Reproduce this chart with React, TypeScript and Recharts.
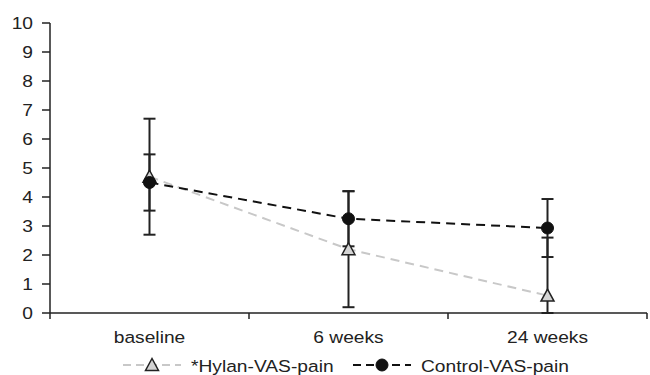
import React from 'react';
import { LineChart, Line, XAxis, YAxis, ErrorBar, Legend } from 'recharts';

const categories = ['baseline', '6 weeks', '24 weeks'];
const hylanMean = [4.7, 2.2, 0.6];
const hylanSd = [2.0, 2.0, 2.0];
const controlMean = [4.5, 3.25, 2.93];
const controlSd = [0.97, 0.95, 1.0];
const yTicks = [0, 1, 2, 3, 4, 5, 6, 7, 8, 9, 10];
const hylanLabel = '*Hylan-VAS-pain';
const controlLabel = 'Control-VAS-pain';

const data = categories.map((name, i) => ({
  name,
  pos: i + 0.5,
  hylan: hylanMean[i],
  hylanErr: hylanSd[i],
  control: controlMean[i],
  controlErr: controlSd[i],
}));

// boundary ticks (0..n) and label ticks at band centres
const xTicks = [
  ...categories.map((_, i) => i),
  categories.length,
  ...categories.map((_, i) => i + 0.5),
].sort((a, b) => a - b);

// the plot area cuts error bars off at 0
const clipped = (mean: string, err: string) => (d: any) => [Math.min(d[err], d[mean]), d[err]];

const FONT = '"Liberation Sans", Arial, sans-serif';
const FS = 17;
const STRETCH = 1.13;

const XTick = ({ x, y, payload }: any) => {
  const v = payload.value;
  if (Number.isInteger(v)) {
    return <line x1={x} y1={y} x2={x} y2={y + 6} stroke="#222" strokeWidth={1.5} />;
  }
  const label = categories[Math.floor(v)];
  return (
    <text
      transform={`translate(${x},${y + 30}) scale(${STRETCH},1)`}
      textAnchor="middle"
      fontSize={FS}
      fontFamily={FONT}
      fill="#222"
    >
      {label}
    </text>
  );
};

const YTick = ({ x, y, payload }: any) => (
  <g>
    <line x1={x - 8} y1={y} x2={x} y2={y} stroke="#222" strokeWidth={1.5} />
    <text
      transform={`translate(${x - 17},${y + 6}) scale(${STRETCH},1)`}
      textAnchor="end"
      fontSize={FS}
      fontFamily={FONT}
      fill="#222"
    >
      {payload.value}
    </text>
  </g>
);

const Triangle = ({ cx, cy }: any) => {
  if (cx == null || cy == null) return null;
  return (
    <polygon
      points={`${cx},${cy - 6.5} ${cx - 6.5},${cy + 5.5} ${cx + 6.5},${cy + 5.5}`}
      fill="#d4d4d4"
      stroke="#222"
      strokeWidth={1.5}
    />
  );
};

const Circle = ({ cx, cy }: any) => {
  if (cx == null || cy == null) return null;
  return <circle cx={cx} cy={cy} r={6} fill="#111" stroke="#111" />;
};

const legendItems = [
  { label: hylanLabel, color: '#c8c8c8', marker: 'triangle', x: 123 },
  { label: controlLabel, color: '#111', marker: 'circle', x: 353 },
];

const renderLegend = () => (
  <svg width={650} height={28} style={{ display: 'block' }}>
    {legendItems.map((it) => (
      <g key={it.label}>
        <line x1={it.x} y1={18} x2={it.x + 58} y2={18} stroke={it.color} strokeWidth={2} strokeDasharray="8 5" />
        {it.marker === 'triangle' ? (
          <Triangle cx={it.x + 29} cy={18} />
        ) : (
          <Circle cx={it.x + 29} cy={18} />
        )}
        <text
          transform={`translate(${it.x + 68},25) scale(${STRETCH},1)`}
          fontSize={FS}
          fontFamily={FONT}
          fill="#222"
        >
          {it.label}
        </text>
      </g>
    ))}
  </svg>
);

export default function App() {
  return (
    <div style={{ position: 'absolute', left: 0, top: 0, width: 650, height: 375, background: '#fff' }}>
      <LineChart width={650} height={375} data={data} margin={{ top: 23, right: 3, left: 0, bottom: 0 }}>
        <XAxis
          dataKey="pos"
          type="number"
          domain={[0, categories.length]}
          ticks={xTicks}
          interval={0}
          tickLine={false}
          tickSize={0}
          tickMargin={0}
          tick={<XTick />}
          height={34}
          axisLine={{ stroke: '#222', strokeWidth: 1.5 }}
        />
        <YAxis
          type="number"
          domain={[0, 10]}
          ticks={yTicks}
          interval={0}
          allowDataOverflow
          width={50}
          tickLine={false}
          tickSize={0}
          tickMargin={0}
          tick={<YTick />}
          axisLine={{ stroke: '#222', strokeWidth: 1.5 }}
        />
        <Legend
          verticalAlign="bottom"
          content={renderLegend}
          wrapperStyle={{ left: 0, bottom: 0, width: 650, height: 28 }}
        />
        <Line
          dataKey="hylan"
          name={hylanLabel}
          type="linear"
          stroke="#c8c8c8"
          strokeWidth={2}
          strokeDasharray="9 6"
          dot={<Triangle />}
          activeDot={false}
          isAnimationActive={false}
        >
          <ErrorBar dataKey={clipped('hylan', 'hylanErr')} width={6} stroke="#222" strokeWidth={2} direction="y" />
        </Line>
        <Line
          dataKey="control"
          name={controlLabel}
          type="linear"
          stroke="#111"
          strokeWidth={2}
          strokeDasharray="9 6"
          dot={<Circle />}
          activeDot={false}
          isAnimationActive={false}
        >
          <ErrorBar dataKey={clipped('control', 'controlErr')} width={6} stroke="#222" strokeWidth={2} direction="y" />
        </Line>
      </LineChart>
    </div>
  );
}
